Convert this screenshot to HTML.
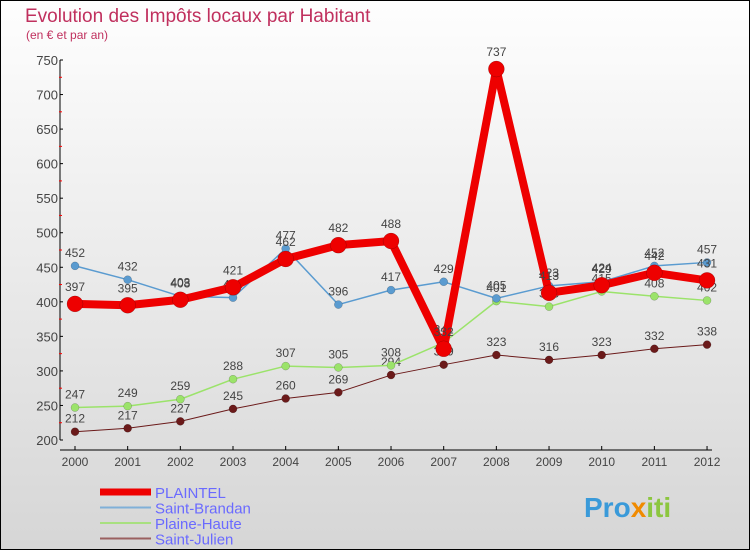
<!DOCTYPE html>
<html><head><meta charset="utf-8"><style>
body{margin:0}
#c{width:748px;height:548px;border:1px solid #000;background:linear-gradient(#fefefe,#d6d6d6);position:relative;overflow:hidden;font-family:"Liberation Sans",sans-serif}
</style></head><body>
<div id="c">
<svg width="748" height="548" viewBox="1 1 748 548" id="s">
<text x="25" y="22" font-size="19" fill="#c0305e">Evolution des Impôts locaux par Habitant</text>
<text x="26" y="39" font-size="12" fill="#c0305e">(en € et par an)</text>
<g id="axes"></g><g id="series"></g><g id="legend"></g>
<text x="584" y="517" font-size="28" font-weight="bold" fill="#3a9ad9">Pro<tspan fill="#f08a00">x</tspan><tspan fill="#8cc63f">iti</tspan></text>
</svg></div>
<script>
const years=[2000,2001,2002,2003,2004,2005,2006,2007,2008,2009,2010,2011,2012];
const yTicks=[200,250,300,350,400,450,500,550,600,650,700,750];
const plaintel=[397,395,403,421,462,482,488,332,737,413,424,442,431];
const brandan=[452,432,408,406,477,396,417,429,405,423,429,452,457];
const plaine=[247,249,259,288,307,305,308,341,401,393,415,408,402];
const julien=[212,217,227,245,260,269,294,309,323,316,323,332,338];
const NS="http://www.w3.org/2000/svg";
const X=i=>75+i*52.67, Y=v=>440-(v-200)*0.6909;
function mk(t,a,p){const e=document.createElementNS(NS,t);for(const k in a)e.setAttribute(k,a[k]);(p||document.getElementById('series')).appendChild(e);return e;}
const ax=document.getElementById('axes');
let e=mk('line',{x1:60,y1:Y(750),x2:60,y2:440,stroke:'#000','stroke-width':1},ax);


e=mk('line',{x1:60,y1:450,x2:712,y2:450,stroke:'#000','stroke-width':1},ax);


yTicks.forEach(v=>{mk('line',{x1:60,y1:Y(v),x2:63,y2:Y(v),stroke:'#000'},ax);
 if(v<750)mk('line',{x1:59,y1:Y(v+25),x2:62,y2:Y(v+25),stroke:'#f00'},ax);
 const t=mk('text',{x:58,y:Y(v)+5,'font-size':13,fill:'#444','text-anchor':'end'},ax);t.textContent=v;
 
 });
years.forEach((y,i)=>{mk('line',{x1:X(i),y1:446,x2:X(i),y2:450,stroke:'#000'},ax);
 const t=mk('text',{x:X(i),y:466,'font-size':12,fill:'#444','text-anchor':'middle'},ax);t.textContent=y;
 
 });
function series(d,col,w,r,name){
 const p=mk('polyline',{points:d.map((v,i)=>X(i)+','+Y(v)).join(' '),fill:'none',stroke:col,'stroke-width':w,'stroke-linejoin':'round'});
 
 
 d.forEach((v,i)=>{const c=mk('circle',{cx:X(i),cy:Y(v),r:r,fill:col,stroke:'rgba(0,0,0,0.3)','stroke-width':0.5});
  
  
  const t=mk('text',{x:X(i),y:Y(v)-(r+5),'font-size':12,fill:'#444','text-anchor':'middle'});t.textContent=v;
  
  });
}
series(julien,'#6b1a1a',1,4,'saint-julien');
series(plaine,'#9be36a',1.5,4,'plaine-haute');
series(brandan,'#5a9bd0',1.5,4,'saint-brandan');
series(plaintel,'#ee0000',8,8,'plaintel');
const lg=document.getElementById('legend');
[['PLAINTEL','#ee0000',7],['Saint-Brandan','#80b0d8',2],['Plaine-Haute','#a8e080',2],['Saint-Julien','#9a6060',2]].forEach((s,i)=>{
 const y=492+i*15.5;
 const l=mk('line',{x1:100,y1:y,x2:151,y2:y,stroke:s[1],'stroke-width':s[2]},lg);
 
 
 const t=mk('text',{x:155,y:y+6,'font-size':15,fill:'#6a6aff'},lg);t.textContent=s[0];
 
 
});
</script>
</body></html>
